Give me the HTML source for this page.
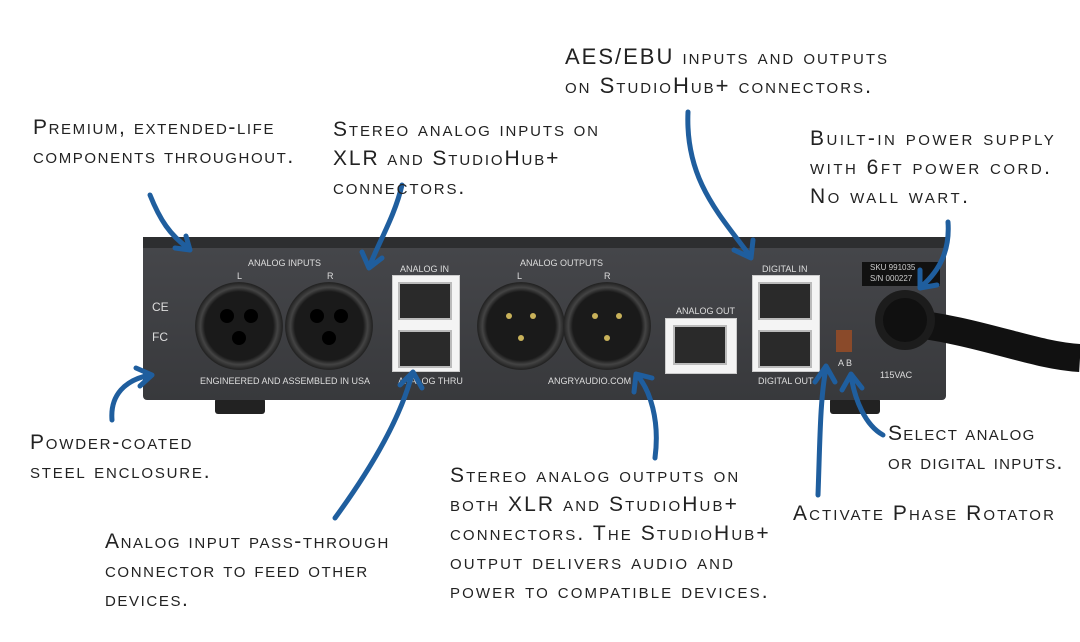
<!DOCTYPE html>
<html><head><meta charset="utf-8"><style>
body{margin:0;width:1080px;height:642px;background:#fff;position:relative;overflow:hidden;font-family:"Liberation Sans",sans-serif}
.t{position:absolute;font-variant:small-caps;font-size:21px;line-height:29px;color:#222;letter-spacing:1.9px;white-space:nowrap}
.lbl{position:absolute;color:#ddd;font-size:9px;white-space:nowrap}
.rj{position:absolute;background:#f4f4f4;border:1px solid #ccc}
.jack{position:absolute;background:#2a2a2a;border:2px solid #bbb}
.xlr{position:absolute;border-radius:50%;background:radial-gradient(circle,#1a1a1a 55%,#444 62%,#222 70%,#555 74%,#2b2b2b 80%)}
</style></head><body>
<div style="position:absolute;left:215px;top:398px;width:50px;height:16px;background:#222;border-radius:3px"></div>
<div style="position:absolute;left:830px;top:398px;width:50px;height:16px;background:#222;border-radius:3px"></div>
<div style="position:absolute;left:143px;top:237px;width:803px;height:12px;background:#2d2e30"></div>
<div style="position:absolute;left:143px;top:248px;width:803px;height:152px;background:linear-gradient(#45464a,#38393c);border-radius:0 0 4px 4px"></div>
<svg style="position:absolute;left:0;top:0" width="1080" height="642">
<path d="M900 322 C980 330 1030 355 1080 358" stroke="#111" stroke-width="28" fill="none"/>
<circle cx="905" cy="320" r="30" fill="#1c1c1c"/><circle cx="905" cy="320" r="22" fill="#101010"/>
</svg>
<div style="position:absolute;left:862px;top:262px;width:78px;height:24px;background:#111;color:#ccc;font-size:8px;line-height:11px;padding-left:8px;box-sizing:border-box">SKU 991035<br>S/N 000227</div>
<div class="lbl" style="left:880px;top:370px">115VAC</div>
<div class="xlr" style="left:195px;top:282px;width:88px;height:88px"></div>
<div class="xlr" style="left:285px;top:282px;width:88px;height:88px"></div>
<div class="xlr" style="left:477px;top:282px;width:88px;height:88px"></div>
<div class="xlr" style="left:563px;top:282px;width:88px;height:88px"></div>
<svg style="position:absolute;left:0;top:0" width="1080" height="642">
<g fill="#000"><circle cx="227" cy="316" r="7"/><circle cx="251" cy="316" r="7"/><circle cx="239" cy="338" r="7"/>
<circle cx="317" cy="316" r="7"/><circle cx="341" cy="316" r="7"/><circle cx="329" cy="338" r="7"/></g>
<g fill="#c9b25a"><circle cx="509" cy="316" r="3"/><circle cx="533" cy="316" r="3"/><circle cx="521" cy="338" r="3"/>
<circle cx="595" cy="316" r="3"/><circle cx="619" cy="316" r="3"/><circle cx="607" cy="338" r="3"/></g>
</svg>
<div class="lbl" style="left:248px;top:258px">ANALOG INPUTS</div>
<div class="lbl" style="left:237px;top:271px">L</div><div class="lbl" style="left:327px;top:271px">R</div>
<div class="lbl" style="left:520px;top:258px">ANALOG OUTPUTS</div>
<div class="lbl" style="left:517px;top:271px">L</div><div class="lbl" style="left:604px;top:271px">R</div>
<div class="lbl" style="left:200px;top:376px">ENGINEERED AND ASSEMBLED IN USA</div>
<div class="lbl" style="left:548px;top:376px">ANGRYAUDIO.COM</div>
<div class="lbl" style="left:400px;top:264px">ANALOG IN</div>
<div class="lbl" style="left:398px;top:376px">ANALOG THRU</div>
<div class="lbl" style="left:676px;top:306px">ANALOG OUT</div>
<div class="lbl" style="left:762px;top:264px">DIGITAL IN</div>
<div class="lbl" style="left:758px;top:376px">DIGITAL OUT</div>
<div class="lbl" style="left:838px;top:358px">A B</div>
<div style="position:absolute;left:836px;top:330px;width:16px;height:22px;background:#8a4a2a"></div>
<div class="lbl" style="left:152px;top:300px;font-size:12px">CE</div>
<div class="lbl" style="left:152px;top:330px;font-size:12px">FC</div>
<div class="rj" style="left:392px;top:275px;width:66px;height:95px"></div>
<div class="jack" style="left:398px;top:282px;width:50px;height:34px"></div>
<div class="jack" style="left:398px;top:330px;width:50px;height:34px"></div>
<div class="rj" style="left:665px;top:318px;width:70px;height:54px"></div>
<div class="jack" style="left:673px;top:325px;width:50px;height:36px"></div>
<div class="rj" style="left:752px;top:275px;width:66px;height:95px"></div>
<div class="jack" style="left:758px;top:282px;width:50px;height:34px"></div>
<div class="jack" style="left:758px;top:330px;width:50px;height:34px"></div>
<svg style="position:absolute;left:0;top:0" width="1080" height="642" fill="none" stroke="#1f5e9e" stroke-width="5" stroke-linecap="round" stroke-linejoin="round">
<path d="M150 195 C160 220 170 235 188 248 M175 248 L190 250 L186 236"/>
<path d="M402 185 C395 215 380 240 370 265 M362 252 L369 268 L382 258"/>
<path d="M688 112 C685 180 720 215 750 256 M734 250 L751 258 L753 240"/>
<path d="M948 222 C950 250 940 270 922 286 M920 270 L920 288 L937 285"/>
<path d="M112 420 C110 395 125 380 150 375 M136 368 L152 375 L140 386"/>
<path d="M335 518 C370 470 400 420 412 374 M400 385 L413 372 L422 388"/>
<path d="M655 458 C660 420 650 390 637 375 M634 392 L636 374 L652 378"/>
<path d="M818 495 C820 440 820 400 826 368 M815 382 L826 366 L835 382"/>
<path d="M883 435 C865 425 855 400 851 376 M842 390 L851 374 L862 388"/>
</svg>
<div class="t" style="left:33px;top:113px;letter-spacing:1.6px">Premium, extended-life<br>components throughout.</div>
<div class="t" style="left:333px;top:115px;letter-spacing:1.9px">Stereo analog inputs on<br>XLR and StudioHub+<br>connectors.</div>
<div class="t" style="left:565px;top:42px;font-size:22px;letter-spacing:2px">AES/EBU inputs and outputs<br>on StudioHub+ connectors.</div>
<div class="t" style="left:810px;top:124px;letter-spacing:2.5px">Built-in power supply<br>with 6ft power cord.<br>No wall wart.</div>
<div class="t" style="left:30px;top:428px;letter-spacing:1.8px">Powder-coated<br>steel enclosure.</div>
<div class="t" style="left:105px;top:527px;letter-spacing:1.6px">Analog input pass-through<br>connector to feed other<br>devices.</div>
<div class="t" style="left:450px;top:461px;letter-spacing:2.1px">Stereo analog outputs on<br>both XLR and StudioHub+<br>connectors. The StudioHub+<br>output delivers audio and<br>power to compatible devices.</div>
<div class="t" style="left:793px;top:499px;letter-spacing:2.1px">Activate Phase Rotator</div>
<div class="t" style="left:888px;top:419px;letter-spacing:1.3px">Select analog<br>or digital inputs.</div>
</body></html>
